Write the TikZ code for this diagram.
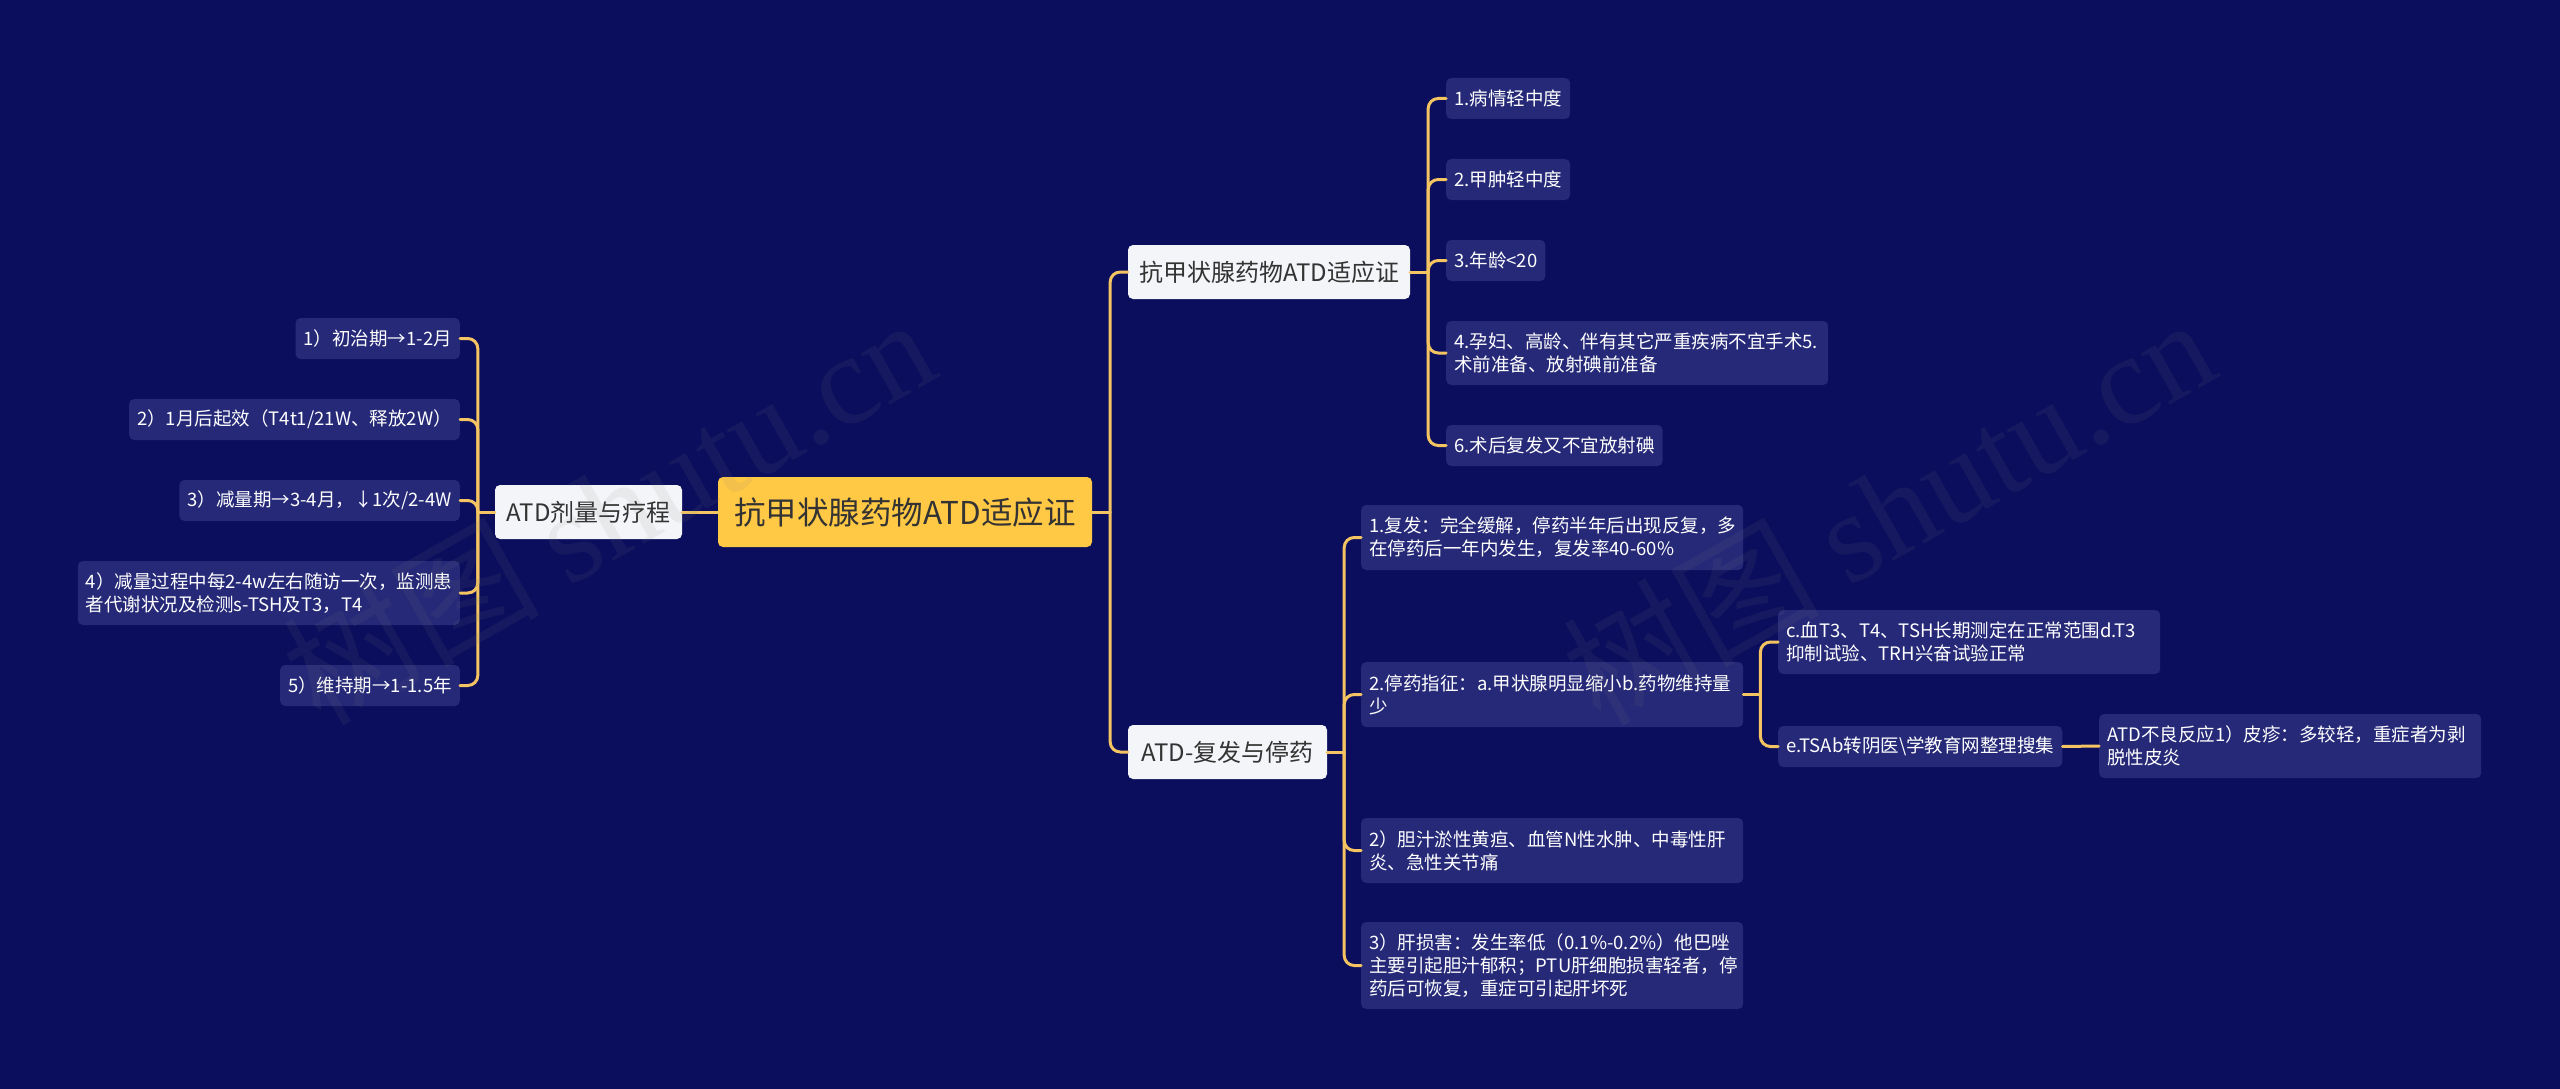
\documentclass[tikz,border=0pt]{standalone}
\usepackage{fontspec}
\newfontfamily\cjk{Noto Sans CJK SC}
\newfontfamily\wmserif{Liberation Serif}
\newcommand\oneline[1]{\mbox{#1}}
\definecolor{bg}{HTML}{0B0E5C}
\definecolor{leaffill}{HTML}{252977}
\definecolor{rootfill}{HTML}{FFC845}
\definecolor{subfill}{HTML}{F4F5F8}
\definecolor{darktext}{HTML}{333333}
\definecolor{linecol}{HTML}{F3C461}
\tikzset{
  leaf/.style={draw=none,fill=leaffill,rounded corners=5pt,text=white,
    font=\cjk\fontsize{18.5}{23}\selectfont,inner xsep=8pt,inner ysep=0pt,
    minimum height=41pt,align=left},
  leafw/.style={leaf,text width=366pt},
  sub/.style={fill=subfill,rounded corners=5pt,text=darktext,
    font=\cjk\fontsize{24}{28}\selectfont,inner sep=0pt,minimum height=54pt},
  rootbox/.style={fill=rootfill,rounded corners=5pt,text=darktext,
    font=\cjk\fontsize{31.5}{34}\selectfont,inner sep=0pt,minimum height=70pt,minimum width=374pt},
  conn/.style={draw=linecol,line width=3pt,rounded corners=10pt,line cap=round},
  wm/.style={text=gray,opacity=0.1,font=\fontsize{128}{134}\selectfont,rotate=29.5}
}
\begin{document}
\begin{tikzpicture}[x=1pt,y=-1pt]
\useasboundingbox (0,0) rectangle (2560,1089);
\fill[bg] (0,0) rectangle (2560,1089);

% root and second level
\node[rootbox] (root) at (905,512) {抗甲状腺药物ATD适应证};
\node[sub,minimum width=187pt] (atd1) at (588.5,512) {ATD剂量与疗程};
\node[sub,minimum width=282pt] (b1) at (1269,272) {抗甲状腺药物ATD适应证};
\node[sub,minimum width=199pt] (b2) at (1227.5,752) {ATD-复发与停药};

% left leaves
\node[leaf,anchor=east] (L1) at (460,338.5) {1）初治期→1-2月};
\node[leaf,anchor=east] (L2) at (460,419.5) {2）1月后起效（T4t1/21W、释放2W）};
\node[leaf,anchor=east] (L3) at (460,500.5) {3）减量期→3-4月，↓1次/2-4W};
\node[leafw,anchor=east,minimum height=64pt] (L4) at (460,593) {\oneline{4）减量过程中每2-4w左右随访一次，监测患}\\\oneline{者代谢状况及检测s-TSH及T3，T4}};
\node[leaf,anchor=east] (L5) at (460,685.5) {5）维持期→1-1.5年};

% right upper leaves
\node[leaf,anchor=west] (R1) at (1446,98.5) {1.病情轻中度};
\node[leaf,anchor=west] (R2) at (1446,179.5) {2.甲肿轻中度};
\node[leaf,anchor=west] (R3) at (1446,260.5) {3.年龄<20};
\node[leafw,anchor=west,minimum height=64pt] (R4) at (1446,353) {\oneline{4.孕妇、高龄、伴有其它严重疾病不宜手术5.}\\\oneline{术前准备、放射碘前准备}};
\node[leaf,anchor=west] (R6) at (1446,445.5) {6.术后复发又不宜放射碘};

% right lower leaves
\node[leafw,anchor=west,minimum height=65pt] (D1) at (1361,537.5) {\oneline{1.复发：完全缓解，停药半年后出现反复，多}\\\oneline{在停药后一年内发生，复发率40-60\%}};
\node[leafw,anchor=west,minimum height=65pt] (D2) at (1361,694.5) {\oneline{2.停药指征：a.甲状腺明显缩小b.药物维持量}\\\oneline{少}};
\node[leafw,anchor=west,minimum height=65pt] (D3) at (1361,850.5) {\oneline{2）胆汁淤性黄疸、血管N性水肿、中毒性肝}\\\oneline{炎、急性关节痛}};
\node[leafw,anchor=west,minimum height=87pt] (D4) at (1361,965.5) {\oneline{3）肝损害：发生率低（0.1\%-0.2\%）他巴唑}\\\oneline{主要引起胆汁郁积；PTU肝细胞损害轻者，停}\\\oneline{药后可恢复，重症可引起肝坏死}};

\node[leafw,anchor=west,minimum height=64pt] (E1) at (1778,642) {\oneline{c.血T3、T4、TSH长期测定在正常范围d.T3}\\\oneline{抑制试验、TRH兴奋试验正常}};
\node[leaf,anchor=west] (E2) at (1778,746.5) {e.TSAb转阴医\textbackslash 学教育网整理搜集};
\node[leafw,anchor=west,minimum height=64pt] (F1) at (2099,746) {\oneline{ATD不良反应1）皮疹：多较轻，重症者为剥}\\\oneline{脱性皮炎}};

% connectors
\draw[conn] (root.west) -- (atd1.east);
\path (atd1.west) ++(-17,0) coordinate (tL);
\draw[conn] (atd1.west) -- (tL);
\foreach \n in {L1,L2,L3,L4,L5} \draw[conn] (tL) |- (\n.east);

\path (root.east) ++(18,0) coordinate (tR);
\draw[conn] (root.east) -- (tR);
\draw[conn] (tR) |- (b1.west);
\draw[conn] (tR) |- (b2.west);

\path (b1.east) ++(18,0) coordinate (tB1);
\draw[conn] (b1.east) -- (tB1);
\foreach \n in {R1,R2,R3,R4,R6} \draw[conn] (tB1) |- (\n.west);

\path (b2.east) ++(17,0) coordinate (tB2);
\draw[conn] (b2.east) -- (tB2);
\foreach \n in {D1,D2,D3,D4} \draw[conn] (tB2) |- (\n.west);

\path (D2.east) ++(17,0) coordinate (tD2);
\draw[conn] (D2.east) -- (tD2);
\draw[conn] (tD2) |- (E1.west);
\draw[conn] (tD2) |- (E2.west);

\draw[conn] (E2.east) -- (F1.west);

% watermarks (faint, on top)
\node[wm] (wm1) at (608,509) {\cjk 树图 \wmserif shutu.cn};
\node[wm] (wm2) at (1888,509) {\cjk 树图 \wmserif shutu.cn};
\end{tikzpicture}
\end{document}
